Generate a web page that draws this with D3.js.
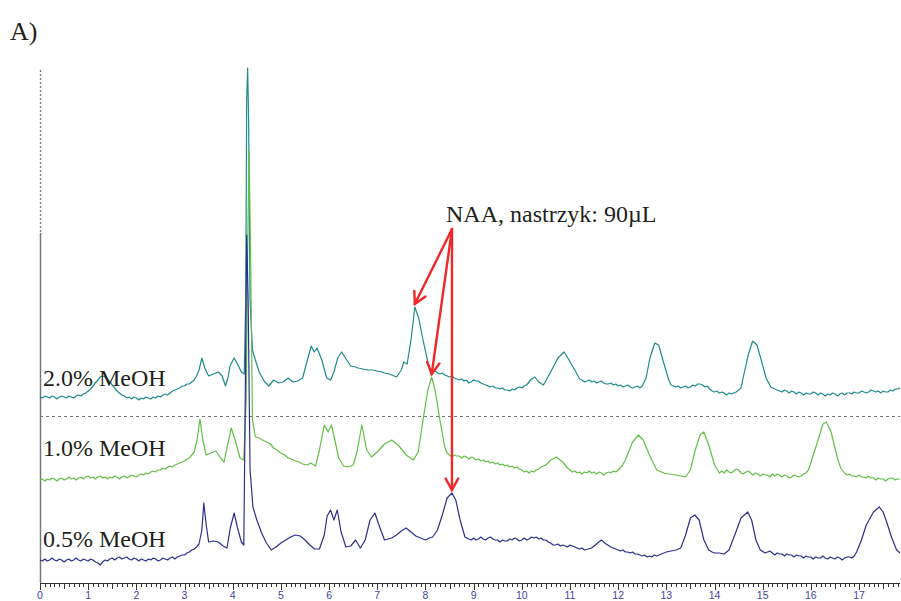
<!DOCTYPE html>
<html>
<head>
<meta charset="utf-8">
<script src="https://cdn.jsdelivr.net/npm/d3@7"></script>
<style>
  body { margin: 0; background: #fff; }
  svg { display: block; }
</style>
</head>
<body>
<div id="chart"></div>
<script>
// Retention time (min) and detector signal (a.u., already stacked/offset)
let trace20 = [
  [0,186],[0.05,185],[0.1,187],[0.15,186],[0.2,185],[0.25,187],[0.3,186],[0.35,184],[0.4,186],[0.45,187],
  [0.5,186],[0.55,185],[0.6,187],[0.65,186],[0.7,185],[0.75,187],[0.8,188],[0.85,187],[0.9,189],[0.95,190],
  [1.0,192],[1.05,194],[1.1,197],[1.15,200],[1.2,203],[1.25,206],[1.3,207],[1.35,206],[1.4,204],[1.45,201],
  [1.5,198],[1.55,195],[1.6,192],[1.65,190],[1.7,188],[1.75,187],[1.8,185],[1.85,186],[1.9,184],[1.95,186],
  [2.0,185],[2.05,183],[2.1,185],[2.15,184],[2.2,186],[2.25,185],[2.3,184],[2.35,186],[2.4,185],[2.45,187],
  [2.5,186],[2.55,188],[2.6,189],[2.65,188],[2.7,190],[2.75,192],[2.8,193],[2.85,194],[2.9,195],[2.95,197],
  [3.0,197],[3.05,199],[3.1,199],[3.15,201],[3.2,203],[3.25,207],[3.3,213],[3.36,225],[3.42,215],[3.5,207],
  [3.6,209],[3.7,211],[3.78,207],[3.85,197],[3.9,205],[3.95,218],[4.03,225],[4.1,219],[4.18,211],[4.24,209],
  [4.27,283],[4.29,483],[4.31,515],[4.33,463],[4.36,283],[4.41,233],[4.47,223],[4.55,211],[4.65,202],[4.75,197],
  [4.85,203],[4.95,200],[5.05,201],[5.15,205],[5.25,201],[5.35,202],[5.45,205],[5.55,223],[5.63,237],[5.69,231],
  [5.75,235],[5.85,223],[5.95,205],[6.03,203],[6.1,211],[6.18,225],[6.26,231],[6.34,225],[6.45,217],[6.55,216],
  [6.6,215],[6.7,214],[6.8,213],[6.9,213],[7.0,212],[7.1,211],[7.15,210],[7.25,209],[7.3,208],[7.4,206],
  [7.5,213],[7.55,221],[7.62,219],[7.7,243],[7.78,276],[7.86,265],[7.95,243],[8.05,221],[8.1,213],[8.15,211],
  [8.2,212],[8.25,210],[8.3,209],[8.35,210],[8.4,208],[8.45,207],[8.5,206],[8.55,207],[8.6,205],[8.65,204],
  [8.7,203],[8.75,204],[8.8,202],[8.85,203],[8.9,200],[8.95,201],[9.0,203],[9.05,202],[9.1,202],[9.15,200],
  [9.2,199],[9.25,198],[9.3,197],[9.35,196],[9.4,197],[9.45,195],[9.5,195],[9.55,194],[9.6,195],[9.65,193],
  [9.7,193],[9.75,192],[9.8,194],[9.85,193],[9.9,195],[9.95,196],[10.0,195],[10.05,197],[10.1,198],[10.2,204],
  [10.27,206],[10.35,201],[10.45,198],[10.6,211],[10.75,225],[10.88,231],[10.98,223],[11.1,213],[11.2,204],[11.25,203],
  [11.3,201],[11.35,202],[11.4,203],[11.45,201],[11.5,202],[11.55,200],[11.6,201],[11.65,202],[11.7,200],[11.75,199],
  [11.8,199],[11.85,200],[11.9,198],[11.95,199],[12.0,197],[12.05,198],[12.1,196],[12.15,197],[12.2,198],[12.25,196],
  [12.3,195],[12.35,196],[12.4,197],[12.45,195],[12.5,197],[12.58,205],[12.66,225],[12.76,240],[12.84,238],[12.94,221],
  [13.05,203],[13.1,198],[13.15,197],[13.2,196],[13.25,197],[13.3,195],[13.35,196],[13.4,197],[13.45,195],[13.5,196],
  [13.55,198],[13.6,197],[13.65,199],[13.7,199],[13.75,198],[13.8,196],[13.85,197],[13.9,194],[13.95,192],[14.0,191],
  [14.05,192],[14.1,190],[14.15,191],[14.2,190],[14.25,188],[14.3,190],[14.35,189],[14.4,190],[14.45,191],[14.5,193],
  [14.55,195],[14.62,211],[14.7,228],[14.79,242],[14.88,238],[14.97,223],[15.07,205],[15.17,196],[15.25,194],[15.3,193],
  [15.35,192],[15.4,191],[15.45,193],[15.5,192],[15.55,190],[15.6,192],[15.65,191],[15.7,189],[15.75,191],[15.8,190],
  [15.85,188],[15.9,190],[15.95,189],[16.0,189],[16.05,191],[16.1,190],[16.15,188],[16.2,190],[16.25,189],[16.3,187],
  [16.35,189],[16.4,188],[16.45,190],[16.5,189],[16.55,187],[16.6,189],[16.65,190],[16.7,188],[16.75,190],[16.8,190],
  [16.85,189],[16.9,191],[16.95,190],[17.0,190],[17.05,192],[17.1,191],[17.15,190],[17.2,191],[17.25,193],[17.3,192],
  [17.35,191],[17.4,192],[17.45,190],[17.5,192],[17.55,191],[17.6,191],[17.65,193],[17.7,192],[17.75,194],[17.8,194],
  [17.85,195]
];

let trace10 = [
  [0,103],[0.05,104],[0.1,102],[0.15,104],[0.2,103],[0.25,105],[0.3,104],[0.35,102],[0.4,104],[0.45,105],
  [0.5,103],[0.55,104],[0.6,106],[0.65,104],[0.7,105],[0.75,103],[0.8,105],[0.85,106],[0.9,104],[0.95,106],
  [1.0,107],[1.05,105],[1.1,106],[1.15,104],[1.2,106],[1.25,107],[1.3,105],[1.35,106],[1.4,104],[1.45,106],
  [1.5,105],[1.55,107],[1.6,106],[1.65,104],[1.7,106],[1.75,107],[1.8,105],[1.85,106],[1.9,108],[1.95,107],
  [2.0,106],[2.05,108],[2.1,109],[2.15,108],[2.2,110],[2.25,109],[2.3,111],[2.35,112],[2.4,111],[2.45,113],
  [2.5,113],[2.55,115],[2.6,114],[2.65,116],[2.7,117],[2.75,116],[2.8,118],[2.85,119],[2.9,120],[2.95,121],
  [3.0,122],[3.05,124],[3.1,125],[3.15,128],[3.2,131],[3.26,143],[3.32,164],[3.38,143],[3.45,128],[3.55,130],
  [3.65,132],[3.75,125],[3.82,121],[3.88,135],[3.97,155],[4.05,143],[4.15,125],[4.23,123],[4.28,183],[4.31,333],
  [4.34,433],[4.37,333],[4.41,163],[4.47,146],[4.55,145],[4.62,143],[4.7,141],[4.78,139],[4.85,135],[4.92,133],
  [5.0,130],[5.08,128],[5.15,125],[5.22,124],[5.3,122],[5.38,121],[5.45,119],[5.55,118],[5.62,120],[5.72,117],
  [5.8,133],[5.9,158],[5.98,151],[6.05,158],[6.12,143],[6.2,125],[6.3,117],[6.4,116],[6.5,118],[6.58,131],
  [6.68,158],[6.78,133],[6.88,126],[7.0,131],[7.15,139],[7.3,143],[7.45,137],[7.6,128],[7.75,123],[7.85,131],
  [7.95,163],[8.05,193],[8.13,206],[8.2,193],[8.3,163],[8.4,136],[8.45,130],[8.5,128],[8.55,126],[8.6,128],
  [8.65,127],[8.7,127],[8.75,125],[8.8,127],[8.85,126],[8.9,124],[8.95,126],[9.0,125],[9.05,123],[9.1,124],
  [9.15,122],[9.2,123],[9.25,121],[9.3,122],[9.35,120],[9.4,121],[9.45,119],[9.5,120],[9.55,118],[9.6,119],
  [9.65,117],[9.7,118],[9.75,116],[9.8,117],[9.85,115],[9.9,116],[9.95,114],[10.0,113],[10.05,111],[10.1,112],
  [10.15,110],[10.2,112],[10.25,111],[10.3,113],[10.35,114],[10.4,116],[10.45,117],[10.5,118],[10.6,123],[10.72,126],
  [10.85,121],[10.95,115],[11.0,113],[11.05,111],[11.1,112],[11.15,110],[11.2,111],[11.25,109],[11.3,111],[11.35,110],
  [11.4,112],[11.45,110],[11.5,111],[11.55,109],[11.6,111],[11.65,110],[11.7,108],[11.75,110],[11.8,111],[11.85,110],
  [11.9,112],[11.95,111],[12.0,113],[12.08,117],[12.15,123],[12.3,141],[12.42,148],[12.52,143],[12.65,128],[12.8,113],
  [12.9,111],[12.95,110],[13.05,109],[13.2,108],[13.3,107],[13.4,106],[13.5,113],[13.6,133],[13.7,148],[13.78,151],
  [13.88,138],[14.0,118],[14.1,110],[14.15,112],[14.2,110],[14.25,113],[14.3,111],[14.35,110],[14.4,112],[14.45,114],
  [14.5,113],[14.55,110],[14.6,109],[14.65,111],[14.7,112],[14.75,110],[14.8,108],[14.85,110],[14.9,109],[14.95,107],
  [15.0,109],[15.05,108],[15.1,108],[15.15,106],[15.2,109],[15.25,107],[15.3,109],[15.35,108],[15.4,106],[15.45,108],
  [15.5,107],[15.55,105],[15.6,106],[15.65,108],[15.7,107],[15.75,106],[15.8,107],[15.85,109],[15.9,110],[15.95,113],
  [16.05,128],[16.15,143],[16.25,159],[16.32,161],[16.42,151],[16.55,125],[16.62,115],[16.7,110],[16.75,108],[16.8,109],
  [16.85,107],[16.9,107],[16.95,106],[17.0,108],[17.05,106],[17.1,106],[17.15,105],[17.2,107],[17.25,105],[17.3,105],
  [17.35,103],[17.4,105],[17.45,104],[17.5,104],[17.55,102],[17.6,104],[17.65,105],[17.7,105],[17.75,103],[17.8,104],
  [17.85,104]
];

let trace05 = [
  [0,23],[0.05,22],[0.1,24],[0.15,22],[0.2,23],[0.25,25],[0.3,23],[0.35,22],[0.4,24],[0.45,23],
  [0.5,21],[0.55,23],[0.6,24],[0.65,22],[0.7,23],[0.75,25],[0.8,23],[0.85,22],[0.9,24],[0.95,23],
  [1.0,22],[1.05,24],[1.1,23],[1.15,21],[1.2,20],[1.25,18],[1.3,21],[1.35,23],[1.4,22],[1.45,24],
  [1.5,25],[1.55,23],[1.6,25],[1.65,26],[1.7,24],[1.75,25],[1.8,26],[1.85,24],[1.9,23],[1.95,25],
  [2.0,24],[2.05,22],[2.1,24],[2.15,23],[2.2,22],[2.25,24],[2.3,23],[2.35,25],[2.4,24],[2.45,22],
  [2.5,23],[2.55,25],[2.6,24],[2.65,23],[2.7,25],[2.75,26],[2.8,24],[2.85,26],[2.9,27],[2.95,28],
  [3.0,28],[3.05,30],[3.1,31],[3.15,33],[3.2,34],[3.25,36],[3.3,39],[3.36,53],[3.40,80],[3.45,58],
  [3.5,41],[3.6,42],[3.7,41],[3.8,37],[3.88,35],[3.95,55],[4.03,70],[4.1,55],[4.18,41],[4.23,38],
  [4.26,183],[4.29,348],[4.32,283],[4.36,113],[4.42,76],[4.5,63],[4.6,50],[4.7,40],[4.8,33],[4.9,36],
  [5.0,40],[5.1,43],[5.2,46],[5.3,48],[5.4,47],[5.5,43],[5.6,38],[5.7,34],[5.8,34],[5.9,48],
  [5.96,67],[6.03,73],[6.1,63],[6.17,73],[6.25,51],[6.35,36],[6.45,37],[6.55,43],[6.65,35],[6.75,43],
  [6.85,63],[6.95,70],[7.05,56],[7.15,43],[7.3,45],[7.4,48],[7.5,52],[7.6,55],[7.7,51],[7.8,47],
  [7.9,45],[8.0,43],[8.08,45],[8.15,46],[8.25,53],[8.35,68],[8.45,85],[8.55,90],[8.63,83],[8.72,63],
  [8.82,46],[8.9,44],[8.95,43],[9.0,45],[9.05,43],[9.1,44],[9.15,46],[9.2,44],[9.25,43],[9.3,45],
  [9.35,46],[9.4,44],[9.45,43],[9.5,43],[9.55,41],[9.6,43],[9.65,42],[9.7,42],[9.75,44],[9.8,43],
  [9.85,45],[9.9,44],[9.95,42],[10.0,43],[10.05,45],[10.1,43],[10.15,44],[10.2,46],[10.25,45],[10.3,46],
  [10.35,44],[10.4,45],[10.45,43],[10.5,43],[10.55,41],[10.6,40],[10.65,38],[10.7,38],[10.75,39],[10.8,37],
  [10.85,38],[10.9,37],[10.95,36],[11.0,38],[11.05,37],[11.1,36],[11.15,35],[11.2,34],[11.25,35],[11.3,33],
  [11.38,34],[11.45,35],[11.55,39],[11.65,43],[11.75,39],[11.85,36],[11.9,35],[11.95,34],[12.0,33],[12.05,32],
  [12.1,33],[12.15,31],[12.2,31],[12.25,30],[12.3,31],[12.35,29],[12.4,29],[12.45,28],[12.5,27],[12.55,28],
  [12.6,26],[12.65,27],[12.7,26],[12.75,28],[12.8,27],[12.85,28],[12.9,29],[12.95,30],[13.0,31],[13.1,32],
  [13.2,33],[13.3,35],[13.4,48],[13.5,65],[13.59,68],[13.68,63],[13.78,43],[13.88,33],[13.95,31],[14.0,30],
  [14.1,30],[14.2,29],[14.3,33],[14.42,48],[14.55,65],[14.69,71],[14.77,63],[14.86,43],[14.95,33],[15.05,30],
  [15.1,31],[15.15,32],[15.2,30],[15.25,28],[15.3,30],[15.35,29],[15.4,29],[15.45,27],[15.5,29],[15.55,28],
  [15.6,28],[15.65,26],[15.7,28],[15.75,27],[15.8,27],[15.85,25],[15.9,27],[15.95,26],[16.0,26],[16.05,24],
  [16.1,26],[16.15,25],[16.2,25],[16.25,27],[16.3,25],[16.35,24],[16.4,26],[16.45,25],[16.5,24],[16.55,26],
  [16.6,25],[16.65,23],[16.7,25],[16.75,26],[16.8,26],[16.85,25],[16.9,27],[16.95,31],[17.05,43],[17.15,58],
  [17.3,71],[17.42,76],[17.5,71],[17.58,60],[17.68,45],[17.78,33],[17.85,30]
];

let traces = [trace20, trace10, trace05];
let traceNames = ['2.0% MeOH', '1.0% MeOH', '0.5% MeOH'];
let traceColors = ['#1f8c8c', '#63bf48', '#2d2f8e'];
let labelValues = [197, 127, 36];   // label baseline level (signal units)
let naaTimes = [7.78, 8.13, 8.55];  // NAA peak per trace
let xTicks = d3.range(0, 18);

let svg = d3.select('#chart')
    .append('svg')
    .attr('width', 901)
    .attr('height', 601);

// Scales
let x = d3.scaleLinear()
    .domain([0, 17.85])
    .range([40, 900]);

let y = d3.scaleLinear()
    .domain([0, 520])
    .range([583, 63]);

// Left axis: dashed upper part, solid lower part
svg.append('line')
    .attr('x1', 40.5).attr('x2', 40.5)
    .attr('y1', y(513)).attr('y2', y(350))
    .attr('stroke', '#777')
    .attr('stroke-width', 1.3)
    .attr('stroke-dasharray', '2,2');

svg.append('line')
    .attr('x1', 40.5).attr('x2', 40.5)
    .attr('y1', y(350)).attr('y2', y(0))
    .attr('stroke', '#777')
    .attr('stroke-width', 1.5);

// Dashed separator
svg.append('line')
    .attr('x1', x(0)).attr('x2', x(17.85))
    .attr('y1', y(167) + 0.5).attr('y2', y(167) + 0.5)
    .attr('stroke', '#777')
    .attr('stroke-width', 1.2)
    .attr('stroke-dasharray', '3,3');

// Traces
let line = d3.line()
    .x(function(d) { return x(d[0]); })
    .y(function(d) { return y(d[1]); });

for (let i = 0; i < traces.length; ++i) {
    svg.append('path')
        .datum(traces[i])
        .attr('d', line)
        .attr('fill', 'none')
        .attr('stroke', traceColors[i])
        .attr('stroke-width', 1.2)
        .attr('stroke-linejoin', 'round');
}

// Trace labels
for (let i = 0; i < traceNames.length; ++i) {
    svg.append('text')
        .attr('x', 43)
        .attr('y', y(labelValues[i]))
        .attr('font-family', '"Liberation Serif", "Times New Roman", serif')
        .attr('font-size', '24px')
        .attr('fill', '#231f20')
        .text(traceNames[i]);
}

// X axis
let xAxis = svg.append('g')
    .attr('transform', 'translate(0,' + 583 + ')');

xAxis.append('line')
    .attr('x1', x(0)).attr('x2', x(17.85))
    .attr('y1', 0.5).attr('y2', 0.5)
    .attr('stroke', '#333');

let minorTicks = d3.range(0, 179).map(function(d) { return d / 10; });
xAxis.selectAll('.minor')
    .data(minorTicks)
    .enter()
    .append('line')
    .attr('class', 'minor')
    .attr('x1', function(d) { return Math.round(x(d)) + 0.5; })
    .attr('x2', function(d) { return Math.round(x(d)) + 0.5; })
    .attr('y1', 0)
    .attr('y2', function(d, i) { return (i % 10 === 0) ? 7 : (i % 5 === 0 ? 6 : 4); })
    .attr('stroke', '#333')
    .attr('stroke-width', 1);

xAxis.selectAll('.tick-label')
    .data(xTicks)
    .enter()
    .append('text')
    .attr('class', 'tick-label')
    .attr('x', function(d) { return x(d); })
    .attr('y', 16)
    .attr('text-anchor', 'middle')
    .attr('font-family', '"Liberation Sans", Arial, sans-serif')
    .attr('font-size', '10.5px')
    .attr('fill', '#4343a3')
    .text(function(d) { return d; });

// Panel letter
svg.append('text')
    .attr('x', 10)
    .attr('y', 40)
    .attr('font-family', '"Liberation Serif", "Times New Roman", serif')
    .attr('font-size', '26px')
    .attr('fill', '#231f20')
    .text('A)');

// NAA annotation
svg.append('text')
    .attr('x', 446)
    .attr('y', 222)
    .attr('font-family', '"Liberation Serif", "Times New Roman", serif')
    .attr('font-size', '24px')
    .attr('fill', '#231f20')
    .text('NAA, nastrzyk: 90\u00b5L');

let start = [452, 229];
let arrows = svg.append('g')
    .attr('stroke', '#f0282a')
    .attr('stroke-width', 2.4)
    .attr('fill', 'none')
    .attr('stroke-linecap', 'round');

for (let i = 0; i < traces.length; ++i) {
    let peak = traces[i].find(function(d) { return d[0] === naaTimes[i]; });
    let tx = x(peak[0]);
    let ty = y(peak[1]) - 3;
    let ang = Math.atan2(ty - start[1], tx - start[0]);
    let len = 13, spread = 0.5;

    arrows.append('line')
        .attr('x1', start[0]).attr('y1', start[1])
        .attr('x2', tx).attr('y2', ty);

    arrows.append('path')
        .attr('d', 'M' + (tx - len * Math.cos(ang - spread)) + ',' + (ty - len * Math.sin(ang - spread)) +
                   'L' + tx + ',' + ty +
                   'L' + (tx - len * Math.cos(ang + spread)) + ',' + (ty - len * Math.sin(ang + spread)));
}
</script>
</body>
</html>
